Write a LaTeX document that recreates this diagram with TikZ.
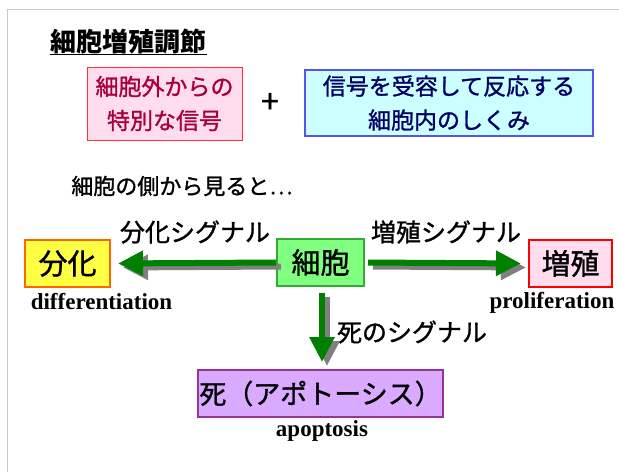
\documentclass[tikz,border=0pt]{standalone}
\usepackage{fontspec}
\setmainfont{Noto Sans CJK JP}
\newfontfamily\medfont[FakeBold=1.2]{Noto Sans CJK JP}
\newfontfamily\latfont{Liberation Serif}
\usetikzlibrary{arrows.meta}
\definecolor{arrgreen}{HTML}{008000}
\definecolor{shadowgray}{HTML}{808080}
\definecolor{framegray}{HTML}{C8C8C8}
\definecolor{pinkfill}{HTML}{FFDDEE}
\definecolor{pinktext}{HTML}{A80038}
\definecolor{pinkline}{HTML}{FF3333}
\definecolor{cyanfill}{HTML}{CCFFFF}
\definecolor{cyanline}{HTML}{5555EE}
\definecolor{navytext}{HTML}{000066}
\definecolor{yellowfill}{HTML}{FFFF44}
\definecolor{orangeline}{HTML}{FF6600}
\definecolor{greenfill}{HTML}{80FF80}
\definecolor{greenline}{HTML}{33AA33}
\definecolor{redline}{HTML}{FF0000}
\definecolor{lilacfill}{HTML}{D9AAFF}
\definecolor{purpleline}{HTML}{993399}
\begin{document}
\begin{tikzpicture}[x=1pt,y=-1pt,
  box/.style={draw, line width=2pt, inner sep=0pt, text=black,
    font=\medfont\fontsize{29}{29}\selectfont},
  topbox/.style={draw, line width=1pt, inner sep=0pt, align=center,
    font=\medfont\fontsize{23}{34}\selectfont},
  sig/.style={inner sep=0pt, font=\medfont\fontsize{25}{25}\selectfont},
  lat/.style={inner sep=0pt, font=\latfont\bfseries\fontsize{23}{23}\selectfont},
  arr/.style={line width=6pt, -{Triangle[length=25pt,width=24pt]}},
  arrshadow/.style={arr, shadowgray, transform canvas={xshift=5pt,yshift=-4pt}},
  arrmain/.style={arr, arrgreen}
]
\useasboundingbox (0,0) rectangle (619,472);
\fill[white] (0,0) rectangle (619,472);
\draw[framegray, line width=1pt] (7,472) -- (7,9) -- (619,9);

% title
\node[inner sep=0pt, font=\bfseries\fontsize{26}{26}\selectfont] (title) at (128.5,42) {細胞増殖調節};
\draw[line width=1.5pt] (title.south west) -- (title.south east);

% top boxes
\node[topbox, fill=pinkfill, draw=pinkline, text=pinktext,
  minimum width=155pt, minimum height=73pt] (ext) at (164.5,103.5)
  {細胞外からの\\特別な信号};
\node[inner sep=0pt, font=\medfont\fontsize{32}{32}\selectfont] (plus) at (270,103) {+};
\node[topbox, fill=cyanfill, draw=cyanline, line width=1.5pt, text=navytext,
  minimum width=288pt, minimum height=66pt] (int) at (449,103)
  {信号を受容して反応する\\細胞内のしくみ};

\node[inner sep=0pt, font=\medfont\fontsize{22}{22}\selectfont] (side) at (182,186) {細胞の側から見ると…};

% main boxes
\node[box, fill=yellowfill, draw=orangeline, minimum width=85pt, minimum height=47pt] (bunka) at (67.5,263.5) {分化};
\node[box, fill=greenfill, draw=greenline, minimum width=87pt, minimum height=47pt] (saibou) at (320.5,262.5) {細胞};
\node[box, fill=pinkfill, draw=redline, minimum width=83pt, minimum height=47pt] (zou) at (570.5,263.5) {増殖};
\node[box, fill=lilacfill, draw=purpleline, minimum width=245pt, minimum height=47pt,
  font=\medfont\fontsize{27}{27}\selectfont] (shi) at (320.5,393.5) {死（アポトーシス）};

% latin labels
\node[lat, anchor=base] (diff) at (101.5,309) {differentiation};
\node[lat, anchor=base] (prol) at (552,308) {proliferation};
\node[lat, anchor=base] (apop) at (322,436) {apoptosis};

% signal labels
\node[sig] (sigb) at (195,232) {分化シグナル};
\node[sig] (sigz) at (446,232) {増殖シグナル};
\node[sig] (sigs) at (412,332) {死のシグナル};

% arrows: shadows
\draw[arrshadow, shorten >=7pt] (saibou.west) -- (bunka.east);
\draw[arrshadow, shorten <=3pt, shorten >=7pt] (saibou.east) -- (zou.west);
\draw[arrshadow, shorten <=6pt, shorten >=7pt] ([xshift=1.5pt]saibou.south) -- ([xshift=1.5pt]shi.north);
% arrows: main
\draw[arrmain, shorten >=7pt] (saibou.west) -- (bunka.east);
\draw[arrmain, shorten <=3pt, shorten >=7pt] (saibou.east) -- (zou.west);
\draw[arrmain, shorten <=6pt, shorten >=7pt] ([xshift=1.5pt]saibou.south) -- ([xshift=1.5pt]shi.north);
\end{tikzpicture}
\end{document}
